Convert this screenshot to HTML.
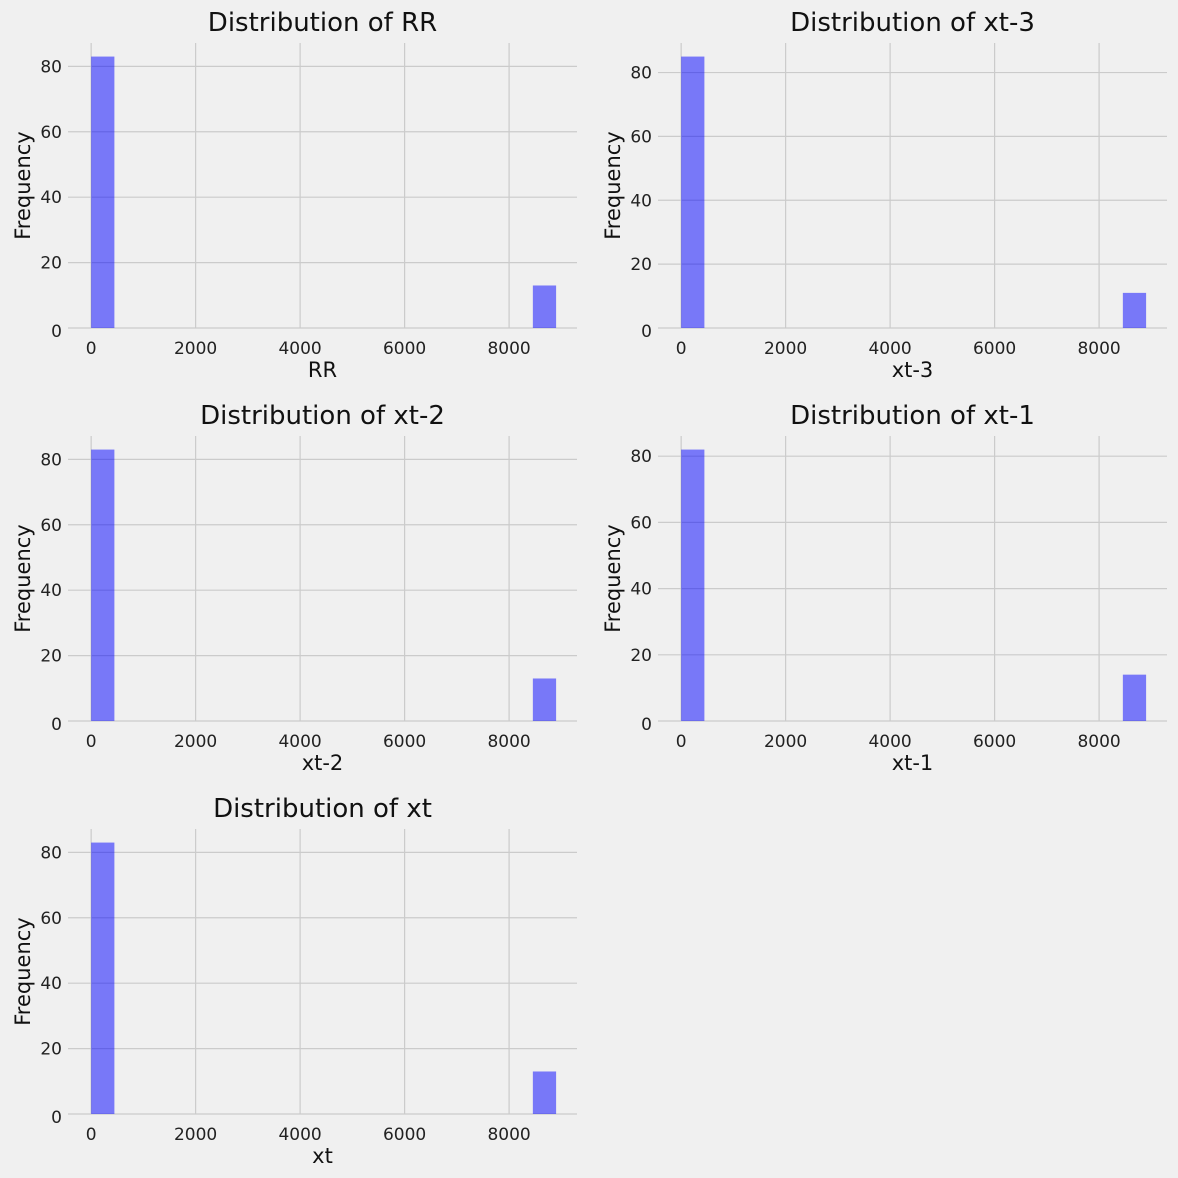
<!DOCTYPE html>
<html><head><meta charset="utf-8"><style>
html,body{margin:0;padding:0;background:#f0f0f0;}
svg{display:block;font-family:"DejaVu Sans","Liberation Sans",sans-serif;}
</style></head><body>
<svg id="chart" width="1178" height="1178" viewBox="0 0 1178 1178" xmlns="http://www.w3.org/2000/svg">
<rect width="1178" height="1178" fill="#f0f0f0"/>
</svg>
<script>
const panelNames = ["RR", "xt-3", "xt-2", "xt-1", "xt"];
const firstBinCounts = [83, 85, 83, 82, 83];
const lastBinCounts = [13, 11, 13, 14, 13];
const xTicks = [0, 2000, 4000, 6000, 8000];
const yTicks = [0, 20, 40, 60, 80];
const binMin = 0, binMax = 8900, binCount = 20;

const NS = "http://www.w3.org/2000/svg";
const svg = document.getElementById("chart");
function mk(tag, attrs, parent) {
  const e = document.createElementNS(NS, tag);
  for (const k in attrs) e.setAttribute(k, attrs[k]);
  parent.appendChild(e);
  return e;
}
const origins = [[0,0],[590,0],[0,393],[590,393],[0,786]];
panelNames.forEach((name, i) => {
  const [ox, oy] = origins[i];
  const g = mk("g", {transform: `translate(${ox},${oy})`}, svg);
  
  
  const left = 68, right = 577, top = 43, bottom = 328;
  const xMin = -443, xMax = 9300;
  const xs = v => left + (v - xMin) / (xMax - xMin) * (right - left);
  const yMax = Math.max(firstBinCounts[i], lastBinCounts[i]) * 1.05;
  const ys = v => bottom - v / yMax * (bottom - top);
  xTicks.forEach(t => {
    const l = mk("line", {x1: xs(t), x2: xs(t), y1: top, y2: bottom, stroke: "#cbcbcb", "stroke-width": 1.2}, g);
    
    
    const tx = mk("text", {x: xs(t), y: bottom + 26, "text-anchor": "middle", "font-size": 17, fill: "#222"}, g);
    tx.textContent = t;
    
    
  });
  yTicks.forEach(t => {
    const l = mk("line", {x1: left, x2: right, y1: ys(t), y2: ys(t), stroke: "#cbcbcb", "stroke-width": 1.2}, g);
    
    
    const tx = mk("text", {x: 62, y: ys(t) + (t === 0 ? 9 : 6), "text-anchor": "end", "font-size": 17, fill: "#222"}, g);
    tx.textContent = t;
    
    
  });
  const bw = (binMax - binMin) / binCount;
  const bins = [[binMin, firstBinCounts[i]], [binMax - bw, lastBinCounts[i]]];
  bins.forEach(([x0, c], j) => {
    const r = mk("rect", {x: xs(x0), y: ys(c), width: xs(x0 + bw) - xs(x0), height: ys(0) - ys(c), fill: "#0000ff", "fill-opacity": 0.5}, g);
    
    
  });
  const title = mk("text", {x: (left + right) / 2, y: 31, "text-anchor": "middle", "font-size": 26, fill: "#111"}, g);
  title.textContent = "Distribution of " + name;
  
  
  const xl = mk("text", {x: (left + right) / 2, y: 377, "text-anchor": "middle", "font-size": 21, fill: "#111"}, g);
  xl.textContent = name;
  
  
  const yl = mk("text", {x: 0, y: 0, transform: `translate(30,${(top + bottom) / 2}) rotate(-90)`, "text-anchor": "middle", "font-size": 21, fill: "#111"}, g);
  yl.textContent = "Frequency";
  
  
});
</script>
</body></html>
